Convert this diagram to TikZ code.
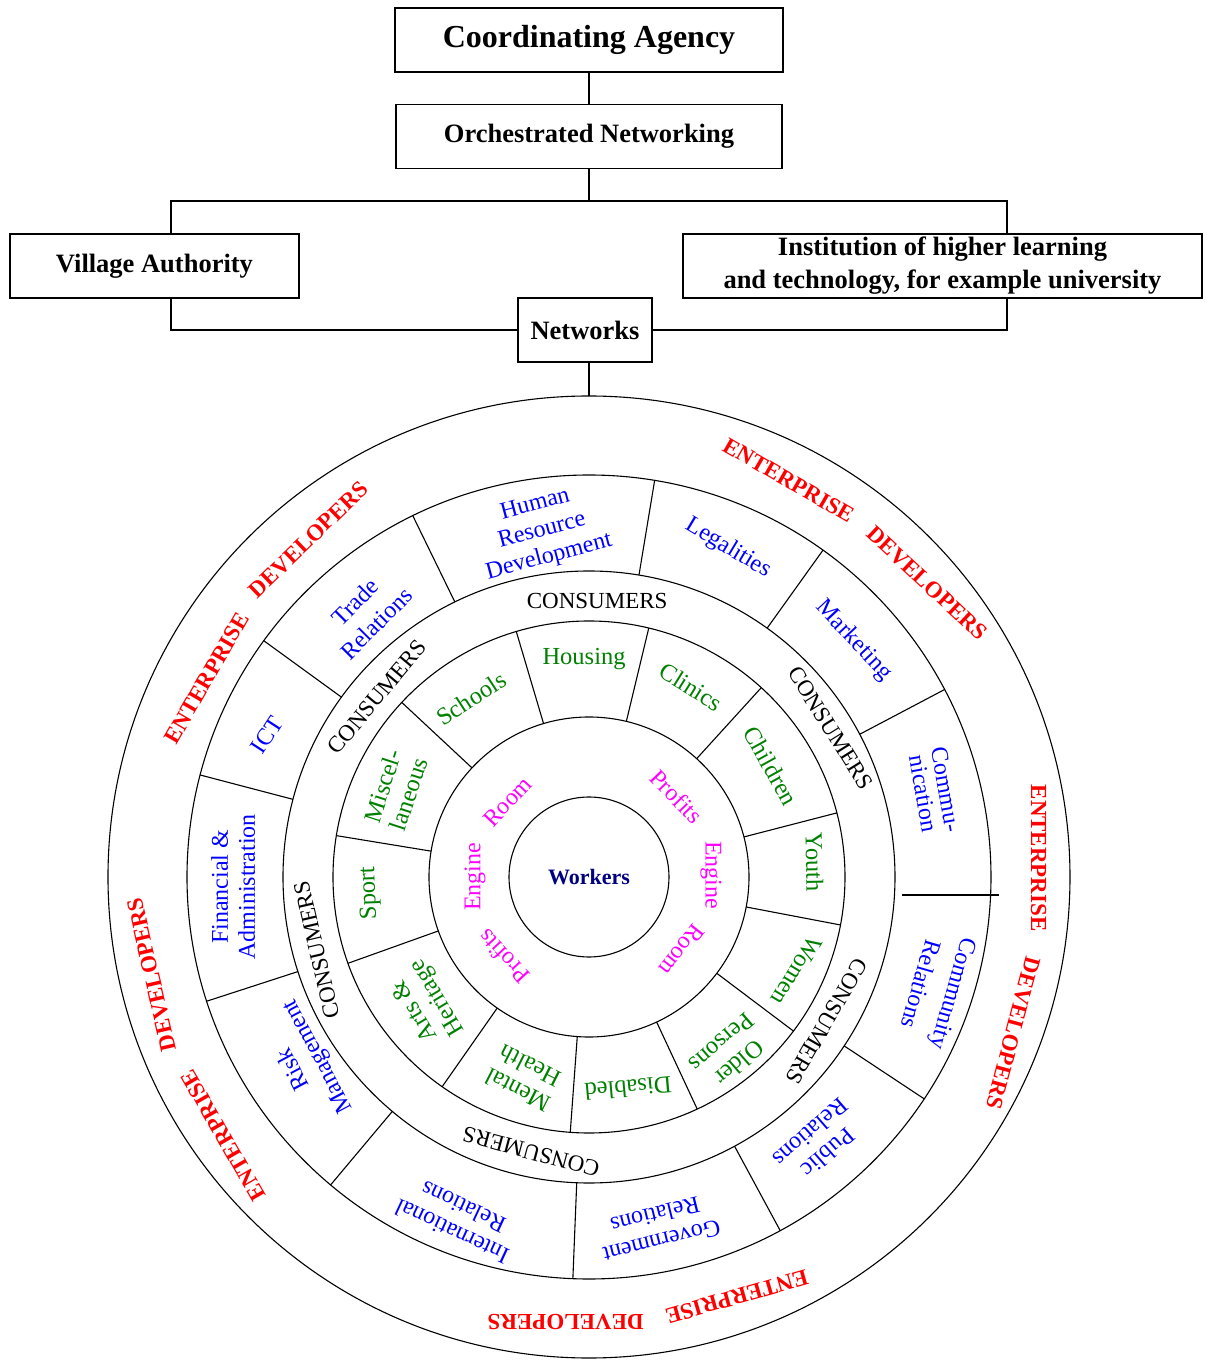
\documentclass[tikz,border=0pt]{standalone}
\usepackage{fontspec}
\setmainfont{Liberation Serif}
\definecolor{leafgreen}{RGB}{0,128,0}
\definecolor{workernavy}{RGB}{0,0,128}
\definecolor{enginepink}{RGB}{255,0,255}

\begin{document}
\begin{tikzpicture}[
    x=1pt, y=1pt,
    line width=1.1pt,
    box/.style={draw, minimum height=64pt, inner sep=0pt, align=center,
    font=\bfseries\fontsize{26.5}{33}\selectfont},
    workers/.style={text=workernavy, font=\bfseries\fontsize{22}{22}\selectfont},
    engine/.style={text=enginepink, inner sep=0pt, font=\fontsize{24}{24}\selectfont},
    group/.style={text=leafgreen, inner sep=0pt, align=center, font=\fontsize{24.5}{27}\selectfont},
    consumers/.style={inner sep=0pt, font=\fontsize{23}{23}\selectfont},
    service/.style={text=blue, inner sep=0pt, align=center, font=\fontsize{24}{27}\selectfont},
    developer/.style={text=red, inner sep=0pt, font=\bfseries\fontsize{23}{23}\selectfont}
    ]
    \useasboundingbox (-589,-485) rectangle (617,877);
    % Boxes
    \node[box, minimum width=388pt, font=\bfseries\fontsize{32}{32}\selectfont] (ca) at (0,837) {Coordinating Agency};
    \node[box, minimum width=386pt] (on) at (0,740.5) {Orchestrated Networking};
    \node[box, minimum width=289pt] (va) at (-434.5,611) {Village Authority};
    \node[box, minimum width=519pt] (ih) at (353.5,611) {Institution of higher learning\\and technology, for example university};
    \node[box, minimum width=134pt] (nw) at (-4,547) {Networks};
    % Links
    \coordinate (fork) at (0,676);
    \coordinate (top) at (90:481pt);
    \draw (ca) -- (on);
    \draw (on) -- (fork);
    \draw ([xshift=16.5pt]va.north) |- (fork) -| ([xshift=64.5pt]ih.north);
    \draw ([xshift=16.5pt]va.south) |- (nw.west);
    \draw ([xshift=64.5pt]ih.south) |- (nw.east);
    \draw (nw.south -| top) -- (top);
    % Rings
    \foreach \r in {80,160,256,306,402,481}
        \draw (0,0) circle (\r pt);
    % Spokes
    \foreach \a in {76.5,47.7,14.5,-10.8,-37,-65,-94.2,-125,-160.3,170.7,137,106.5}
        \draw (\a:160pt) -- (\a:256pt);
    \foreach \a in {116,80.6,54.4,27.8,-33.5,-61.6,-92.3,-130,-162,165.3,144}
        \draw (\a:306pt) -- (\a:402pt);
    \draw (313,-18) -- (410,-18);
    % Centre
    \node[workers] (wk) at (0,0) {Workers};
    \node[engine, rotate=47] (room1) at (137.3:111pt) {Room};
    \node[engine, rotate=-46] (profits1) at (42.5:119pt) {Profits};
    \node[engine, rotate=-90] (engine1) at (0.9:122pt) {Engine};
    \node[engine, rotate=-128] (room2) at (-38.2:118pt) {Room};
    \node[engine, rotate=133] (profits2) at (-137:117pt) {Profits};
    \node[engine, rotate=90] (engine2) at (180:114pt) {Engine};
    % Groups
    \node[group] (housing) at (91.3:218pt) {Housing};
    \node[group, rotate=-32] (clinics) at (61.8:216pt) {Clinics};
    \node[group, rotate=-61] (children) at (31.4:213pt) {Children};
    \node[group, rotate=-89] (youth) at (3.8:226pt) {Youth};
    \node[group, rotate=-121] (women) at (-24.3:228pt) {Women};
    \node[group, rotate=-139] (older) at (-51.1:226pt) {Older\\Persons};
    \node[group, rotate=-175] (disabled) at (-79.5:215pt) {Disabled};
    \node[group, rotate=153] (mental) at (-108:212pt) {Mental\\Health};
    \node[group, rotate=121] (arts) at (-142:206pt) {Arts \&\\Heritage};
    \node[group, rotate=92] (sport) at (-175.8:220pt) {Sport};
    \node[group, rotate=72] (misc) at (155.8:212pt) {Miscel-\\laneous};
    \node[group, rotate=33] (schools) at (123.4:214pt) {Schools};
    % Consumers
    \node[consumers] (cons1) at (88.3:276pt) {CONSUMERS};
    \node[consumers, rotate=50] (cons2) at (139.7:278pt) {CONSUMERS};
    \node[consumers, rotate=-58] (cons3) at (31.7:284pt) {CONSUMERS};
    \node[consumers, rotate=103] (cons4) at (-165:282pt) {CONSUMERS};
    \node[consumers, rotate=-120] (cons5) at (-31.3:278pt) {CONSUMERS};
    \node[consumers, rotate=165] (cons6) at (-101.9:281pt) {CONSUMERS};
    % Services
    \node[service, rotate=15] (hrd) at (97.7:349pt) {Human\\Resource\\Development};
    \node[service, rotate=-31] (legal) at (67:357pt) {Legalities};
    \node[service, rotate=-47] (market) at (41.8:355pt) {Marketing};
    \node[service, rotate=-80, font=\fontsize{24}{23}\selectfont] (comm) at (13.9:356pt) {Commu-\\nication};
    \node[service, rotate=-106, font=\fontsize{24}{34}\selectfont] (commrel) at (-17.8:366pt) {Community\\Relations};
    \node[service, rotate=-139] (public) at (-49.1:352pt) {Public\\Relations};
    \node[service, rotate=-166] (govt) at (-78.8:358pt) {Government\\Relations};
    \node[service, rotate=155] (intl) at (-111:367pt) {International\\Relations};
    \node[service, rotate=118] (risk) at (-146.7:338pt) {Risk\\Management};
    \node[service, rotate=90] (fin) at (-178.4:356pt) {Financial \&\\Administration};
    \node[service, rotate=57] (ict) at (156.2:352pt) {ICT};
    \node[service, rotate=45, font=\fontsize{24}{30}\selectfont] (trade) at (130.2:346pt) {Trade\\Relations};
    % Developers
    \node[developer, rotate=60] (ent1) at (152.5:431pt) {ENTERPRISE};
    \node[developer, rotate=44] (dev1) at (129.8:439pt) {DEVELOPERS};
    \node[developer, rotate=-30] (ent2) at (63.3:444pt) {ENTERPRISE};
    \node[developer, rotate=-43] (dev2) at (41:448pt) {DEVELOPERS};
    \node[developer, rotate=-90] (ent3) at (2.4:450pt) {ENTERPRISE};
    \node[developer, rotate=-105] (dev3) at (-20.2:452pt) {DEVELOPERS};
    \node[developer, rotate=-164] (ent4) at (-70.6:445pt) {ENTERPRISE};
    \node[developer, rotate=180] (dev4) at (-93:446pt) {DEVELOPERS};
    \node[developer, rotate=120] (ent5) at (-144.8:448pt) {ENTERPRISE};
    \node[developer, rotate=103] (dev5) at (-167.4:448pt) {DEVELOPERS};
\end{tikzpicture}
\end{document}
